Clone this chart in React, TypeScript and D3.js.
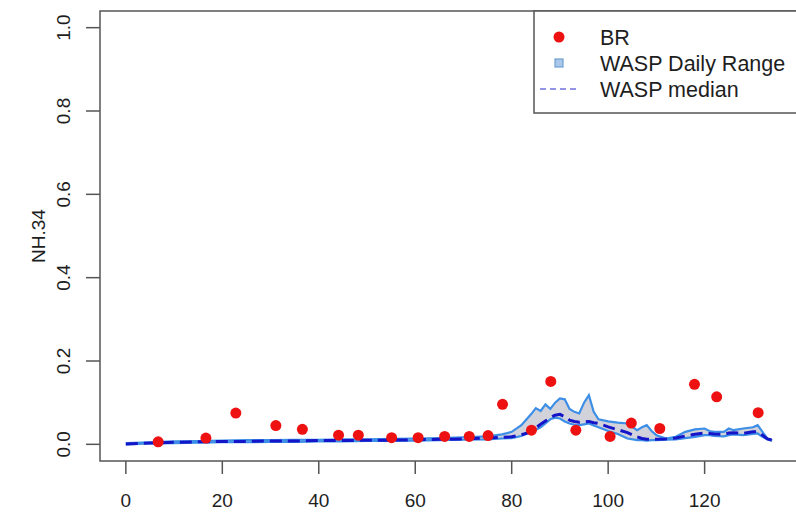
import React from "react";
import * as d3 from "d3";

const brDay = [6.7, 16.6, 22.8, 31.1, 36.6, 44.1, 48.2, 55.1, 60.6, 66.1, 71.2, 75.1, 78.1, 84.1, 88.1, 93.3, 100.4, 104.8, 110.7, 117.9, 122.5, 131.1];
const brValue = [0.006, 0.015, 0.075, 0.045, 0.036, 0.022, 0.022, 0.016, 0.016, 0.019, 0.019, 0.021, 0.096, 0.034, 0.151, 0.034, 0.019, 0.051, 0.038, 0.144, 0.114, 0.076];

const waspDay = [0, 5, 10, 15, 20, 25, 30, 35, 40, 45, 50, 55, 60, 65, 70, 75, 78, 80, 82, 84, 85, 86, 87, 88, 89, 90, 91, 92, 93, 94, 95, 96, 97, 98, 100, 102, 104, 106, 107, 108, 109, 110, 112, 114, 116, 118, 120, 121, 122, 124, 125, 126, 128, 130, 131, 132, 133, 134];
const waspHigh = [0.003, 0.005, 0.007, 0.008, 0.009, 0.010, 0.010, 0.011, 0.011, 0.012, 0.012, 0.013, 0.014, 0.015, 0.017, 0.019, 0.024, 0.030, 0.046, 0.072, 0.087, 0.080, 0.096, 0.085, 0.100, 0.110, 0.108, 0.085, 0.078, 0.074, 0.100, 0.118, 0.078, 0.060, 0.055, 0.052, 0.050, 0.034, 0.041, 0.046, 0.032, 0.022, 0.014, 0.018, 0.030, 0.036, 0.038, 0.032, 0.030, 0.030, 0.038, 0.034, 0.038, 0.041, 0.046, 0.030, 0.014, 0.010];
const waspLow = [0.000, 0.002, 0.003, 0.004, 0.005, 0.005, 0.006, 0.006, 0.007, 0.007, 0.008, 0.008, 0.009, 0.010, 0.011, 0.012, 0.014, 0.015, 0.020, 0.030, 0.035, 0.041, 0.050, 0.060, 0.064, 0.062, 0.055, 0.050, 0.047, 0.046, 0.048, 0.050, 0.045, 0.041, 0.032, 0.025, 0.014, 0.010, 0.010, 0.009, 0.010, 0.010, 0.011, 0.012, 0.015, 0.018, 0.022, 0.022, 0.020, 0.019, 0.022, 0.024, 0.022, 0.025, 0.026, 0.018, 0.012, 0.009];
const waspMedian = [0.001, 0.003, 0.005, 0.006, 0.007, 0.007, 0.008, 0.008, 0.009, 0.009, 0.010, 0.010, 0.011, 0.012, 0.013, 0.015, 0.017, 0.018, 0.023, 0.030, 0.040, 0.048, 0.056, 0.064, 0.070, 0.072, 0.066, 0.058, 0.055, 0.053, 0.054, 0.055, 0.052, 0.050, 0.042, 0.035, 0.028, 0.018, 0.014, 0.012, 0.012, 0.012, 0.013, 0.015, 0.020, 0.024, 0.027, 0.026, 0.025, 0.024, 0.027, 0.028, 0.026, 0.030, 0.030, 0.022, 0.013, 0.010];

const xTicks = [0, 20, 40, 60, 80, 100, 120];
const yTicks = [0, 0.2, 0.4, 0.6, 0.8, 1.0];
const legendLabels = ["BR", "WASP Daily Range", "WASP median"];
const yLabel = "NH.34";

const FONT = "'Liberation Sans', Arial, sans-serif";

export default function App() {
  const left = 100, right = 798, top = 11, bottom = 461;
  const x = d3.scaleLinear().domain([-5.36, 139.36]).range([left, right]);
  const y = d3.scaleLinear().domain([-0.04, 1.04]).range([bottom, top]);

  const idx = waspDay.map((_, i) => i);
  const area = d3.area<number>().x(i => x(waspDay[i])).y0(i => y(waspLow[i])).y1(i => y(waspHigh[i]));
  const hiLine = d3.line<number>().x(i => x(waspDay[i])).y(i => y(waspHigh[i]));
  const loLine = d3.line<number>().x(i => x(waspDay[i])).y(i => y(waspLow[i]));
  const medLine = d3.line<number>().x(i => x(waspDay[i])).y(i => y(waspMedian[i]));

  const textColor = "#1e1e1e";
  const axisColor = "#555";

  return (
    <svg width={796} height={513} style={{ position: "absolute", left: 0, top: 0, background: "#fff" }} fontFamily={FONT}>
      <defs>
        <clipPath id="plotclip">
          <rect x={left} y={top} width={right - left} height={bottom - top} />
        </clipPath>
      </defs>
      <rect x={0} y={0} width={796} height={513} fill="#fff" />
      <g clipPath="url(#plotclip)">
        <path d={area(idx) || ""} fill="#d2d2da" stroke="none" />
        <path d={hiLine(idx) || ""} fill="none" stroke="#3d8ee6" strokeWidth={2.2} />
        <path d={loLine(idx) || ""} fill="none" stroke="#3d8ee6" strokeWidth={2.2} />
        <path d={medLine(idx) || ""} fill="none" stroke="#1414c8" strokeWidth={3} strokeDasharray="12,6" />
        {brDay.map((d, i) => (
          <circle key={i} cx={x(d)} cy={y(brValue[i])} r={5.5} fill="#ee1111" />
        ))}
      </g>
      {/* box */}
      <path d={`M${right + 2},${top} H${left} V${bottom} H${right + 2}`} fill="none" stroke={axisColor} strokeWidth={1.5} />
      {/* x axis */}
      {xTicks.map(t => (
        <g key={t}>
          <line x1={x(t)} x2={x(t)} y1={bottom} y2={bottom + 13} stroke={axisColor} strokeWidth={1.5} />
          <text x={x(t)} y={507} textAnchor="middle" fontSize={19} fill={textColor}>{t}</text>
        </g>
      ))}
      {/* y axis */}
      {yTicks.map(t => (
        <g key={t}>
          <line x1={left - 14} x2={left} y1={y(t)} y2={y(t)} stroke={axisColor} strokeWidth={1.5} />
          <text transform={`translate(70,${y(t)}) rotate(-90)`} textAnchor="middle" fontSize={19} fill={textColor}>{t.toFixed(1)}</text>
        </g>
      ))}
      <text transform={`translate(45,${(top + bottom) / 2}) rotate(-90)`} textAnchor="middle" fontSize={19} fill={textColor}>{yLabel}</text>
      {/* legend */}
      <rect x={534} y={top} width={270} height={102} fill="#fff" stroke={axisColor} strokeWidth={1.5} />
      <circle cx={559} cy={37} r={5.5} fill="#ee1111" />
      <rect x={555} y={59} width={8} height={8} fill="#a9c8ea" stroke="#6f9fcf" strokeWidth={1.2} />
      <line x1={540} x2={578} y1={89} y2={89} stroke="#7272e0" strokeWidth={1.5} strokeDasharray="6,4" />
      {legendLabels.map((l, i) => (
        <text key={l} x={600} y={45 + i * 26} fontSize={21.5} fill={textColor}>{l}</text>
      ))}
    </svg>
  );
}
